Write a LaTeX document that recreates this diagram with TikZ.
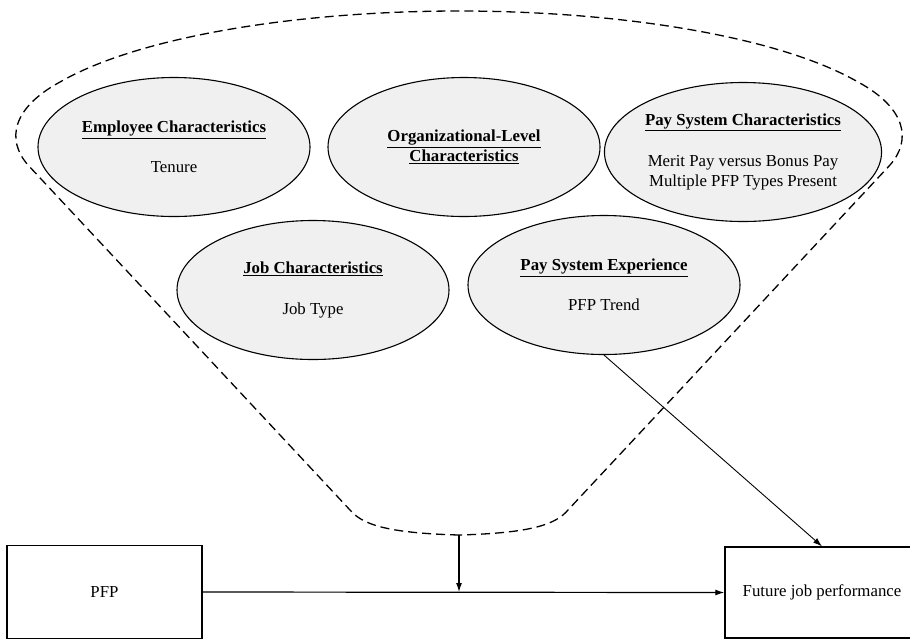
\documentclass[tikz,border=0pt]{standalone}
\usepackage{fontspec}
\setmainfont{Liberation Serif}
\usetikzlibrary{shapes.geometric,arrows.meta}
\tikzset{
  factor/.style={ellipse, draw, line width=1.1pt, fill=gray!12, minimum width=272pt, minimum height=139pt, inner sep=0pt, align=center, font=\fontsize{16.8}{20}\selectfont},
  box/.style={rectangle, draw, line width=1.3pt, inner sep=0pt, align=center, font=\fontsize{16.8}{20}\selectfont},
  arr/.style={line width=1.2pt, -{Latex[length=9pt,width=6pt]}},
  funnel/.style={line width=1.3pt, dash pattern=on 9pt off 5pt}
}
\begin{document}
\begin{tikzpicture}[x=1pt,y=-1pt]
\useasboundingbox (0,0) rectangle (910,641);
\clip (0,0) rectangle (910,641);
\fill[white] (0,0) rectangle (910,641);

% funnel
\coordinate (fb) at (459,535);
\draw[funnel] (fb) .. controls (385,533) and (362,524) .. (350,510)
  -- (28,165) .. controls (6,140) and (12,108) .. (60,82)
  .. controls (140,36) and (300,11) .. (459,11)
  .. controls (618,11) and (778,36) .. (858,82)
  .. controls (906,108) and (912,140) .. (890,165)
  -- (568,510) .. controls (556,524) and (533,533) .. (fb);

% factors
\node[factor] (emp) at (174,147) {\underline{\textbf{Employee Characteristics}}\\[20pt]Tenure};
\node[factor] (org) at (464,147) {\underline{\textbf{Organizational-Level}}\\\underline{\textbf{Characteristics}}};
\node[factor] (psc) at (743,152) {\underline{\textbf{Pay System Characteristics}}\\[21pt]Merit Pay versus Bonus Pay\\Multiple PFP Types Present};
\node[factor] (job) at (313,290) {\underline{\textbf{Job Characteristics}}\\[21pt]Job Type};
\node[factor] (pse) at (604,285) {\underline{\textbf{Pay System Experience}}\\[20pt]PFP Trend};

% boxes
\node[box, minimum width=195pt, minimum height=93pt] (pfp) at (104.5,592) {PFP};
\node[box, minimum width=194pt, minimum height=91pt] (fjp) at (822,592.5) {Future job performance};

% connectors
\coordinate (mid) at (459,592);
\draw[arr] (pfp.east) -- (fjp.west);
\draw[arr] (fb) -- (mid);
\draw[line width=0.9pt, -{Latex[length=9pt,width=6pt]}] (pse.south) -- (fjp.north);
\end{tikzpicture}
\end{document}
